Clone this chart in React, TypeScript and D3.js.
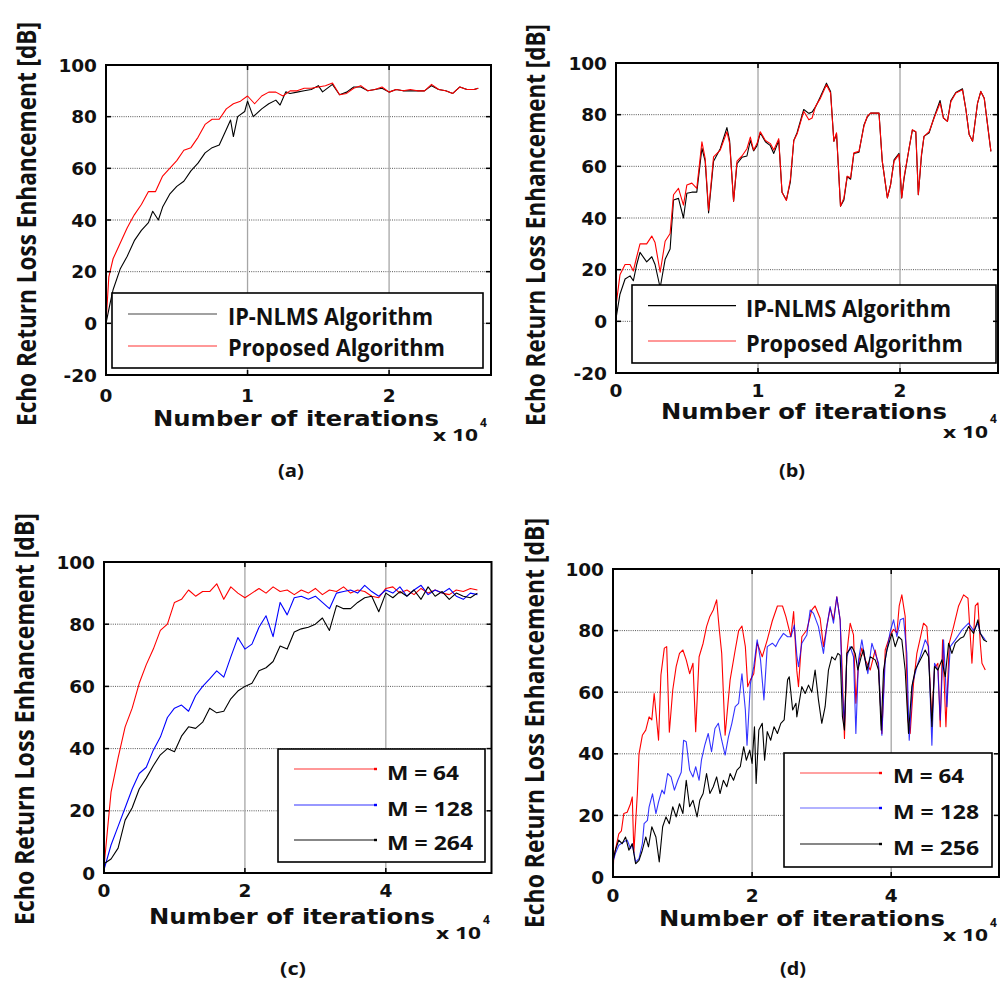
import React, { useLayoutEffect, useRef, useState } from "react";
import * as d3 from "d3";

type Pt = [number, number];

// iterations are in units of 10^4, ERLE in dB

// (a)
const aIpNlms: Pt[] = [
  [0, 0], [0.03, 8], [0.05, 13], [0.1, 21], [0.15, 26], [0.2, 32], [0.25, 36], [0.3, 39], [0.33, 43.4],
  [0.37, 40], [0.4, 45], [0.45, 50], [0.5, 53], [0.55, 55], [0.6, 59], [0.65, 62], [0.7, 66], [0.75, 68],
  [0.8, 69], [0.85, 75], [0.88, 78.7], [0.9, 72.3], [0.93, 80], [0.98, 82], [1.0, 86], [1.04, 80], [1.1, 83],
  [1.15, 85], [1.2, 86.4], [1.23, 84.5], [1.27, 89.6], [1.3, 89], [1.35, 89.5], [1.4, 90], [1.45, 90.5],
  [1.5, 92], [1.53, 89.6], [1.6, 92.5], [1.65, 88.5], [1.7, 89.5], [1.75, 91.5], [1.8, 91.5], [1.85, 90],
  [1.9, 90.5], [1.95, 91], [2.0, 89.5], [2.05, 90.5], [2.1, 90], [2.15, 90], [2.2, 90], [2.25, 90], [2.3, 92],
  [2.35, 90.5], [2.4, 90], [2.45, 89], [2.5, 91.5], [2.55, 90.5], [2.6, 90.5], [2.63, 91],
];
const aProposed: Pt[] = [
  [0, 0], [0.02, 18], [0.05, 25], [0.1, 31], [0.15, 37], [0.2, 42], [0.25, 46], [0.3, 51], [0.35, 51],
  [0.4, 57], [0.45, 60], [0.5, 63], [0.55, 67], [0.6, 68], [0.65, 72], [0.7, 77], [0.75, 79], [0.8, 79],
  [0.85, 83], [0.9, 85], [0.95, 86], [1.0, 88], [1.05, 85], [1.1, 88], [1.15, 89.5], [1.2, 89.5], [1.25, 88],
  [1.3, 90], [1.35, 90], [1.4, 91], [1.45, 91], [1.5, 91.5], [1.55, 92], [1.6, 93], [1.65, 88.5], [1.7, 89],
  [1.75, 91], [1.8, 92], [1.85, 90], [1.9, 90.5], [1.95, 91.5], [2.0, 89.5], [2.05, 90.5], [2.1, 90],
  [2.15, 90.5], [2.2, 90], [2.25, 90], [2.3, 92.5], [2.35, 90.5], [2.4, 90], [2.45, 89], [2.5, 91.5],
  [2.55, 90.5], [2.6, 90.5], [2.63, 91],
];

// (b)
const bIterations = [
  0, 0.028, 0.064, 0.099, 0.122, 0.146, 0.169, 0.216, 0.252, 0.275, 0.311, 0.346, 0.381, 0.405, 0.44, 0.475,
  0.499, 0.534, 0.569, 0.605, 0.628, 0.652, 0.687, 0.734, 0.781, 0.8, 0.828, 0.852, 0.887, 0.922, 0.946,
  0.969, 0.993, 1.016, 1.052, 1.087, 1.111, 1.146, 1.169, 1.2, 1.228, 1.252, 1.275, 1.322, 1.358, 1.381,
  1.405, 1.44, 1.482, 1.511, 1.534, 1.553, 1.581, 1.605, 1.628, 1.652, 1.675, 1.711, 1.746, 1.769, 1.793,
  1.852, 1.875, 1.911, 1.934, 1.958, 1.993, 2.012, 2.028, 2.064, 2.087, 2.111, 2.129, 2.151, 2.169, 2.205,
  2.24, 2.282, 2.306, 2.334, 2.358, 2.393, 2.44, 2.464, 2.487, 2.511, 2.546, 2.569, 2.593, 2.64,
];
const bIpNlms = [
  1, 10.5, 16.4, 17.6, 15.7, 22, 26.7, 23, 25, 22, 13, 24, 28, 47, 47.6, 40, 49.6, 50, 50, 67, 62, 42, 62,
  66.8, 75, 70, 46.5, 61, 63.5, 64, 70, 66, 68, 73, 69.5, 68, 65, 70, 50, 47, 54, 70, 73, 82, 80.5, 81, 83,
  87, 92.2, 89, 69.7, 72.5, 44.6, 47, 56, 55, 65, 65.5, 76, 79, 80.6, 80.6, 62, 47.8, 53, 62.5, 65, 47.8,
  55, 67, 74, 73.4, 49, 64, 71.6, 73, 79, 85.5, 78.7, 77.4, 85.5, 88.6, 90, 82, 72.3, 69.7, 84.5, 89, 86.4,
  65.8,
];
const bProposed = [
  6, 18, 22, 22, 19.5, 25, 30, 30, 33, 30.5, 19, 31, 34, 49, 51.5, 45, 52.8, 53.5, 51.5, 69.5, 63, 43, 63.7,
  66.3, 73.4, 69, 46.5, 62, 64, 66.8, 71.3, 66.3, 68.8, 73.4, 70, 68.8, 66.3, 70.7, 50, 46.8, 55, 70, 72.5,
  81.3, 78, 78.7, 83.2, 86.4, 91.6, 88.4, 69.7, 73, 44.6, 47.8, 56.2, 55.6, 65.2, 65.8, 75.5, 79.4, 80.6,
  80.6, 62, 47.8, 53, 62, 64.6, 47.8, 55.6, 67, 74.2, 73.4, 49, 64.6, 71.6, 73.4, 78.7, 84.5, 78.7, 77.4, 85,
  88.4, 89.6, 82, 72.3, 69.7, 84.5, 89, 86.4, 65.8,
];

// (c)
const cIterations = [
  0, 0.1, 0.2, 0.3, 0.4, 0.5, 0.6, 0.7, 0.8, 0.9, 1.0, 1.1, 1.2, 1.3, 1.4, 1.5, 1.6, 1.7, 1.8, 1.9, 2.0,
  2.1, 2.2, 2.3, 2.4, 2.5, 2.6, 2.7, 2.8, 2.9, 3.0, 3.1, 3.2, 3.3, 3.4, 3.5, 3.6, 3.7, 3.8, 3.9, 4.0, 4.1,
  4.2, 4.3, 4.4, 4.5, 4.6, 4.7, 4.8, 4.9, 5.0, 5.1, 5.2, 5.3,
];
const cM64 = [
  2, 26, 37, 47, 53, 61, 67, 72, 78, 80, 87, 88, 91, 89, 90.5, 90.5, 93, 88, 92, 90, 88.5, 90, 91.5, 90, 92,
  90.5, 91, 89.5, 91, 90, 91.5, 89.5, 91, 90.5, 92, 90, 91, 90.5, 89, 88.5, 91.5, 92, 90, 91, 89.5, 91.5, 90,
  91, 90, 89.5, 91, 90.5, 91.5, 91,
];
const cM128 = [
  1, 9, 15, 21, 27, 32, 34, 39.5, 43.7, 50, 53, 54, 52, 57, 60, 62.4, 65, 63, 69.5, 75.7, 72, 73.6, 79, 82.7,
  76, 87, 83, 88.5, 89, 88, 89, 87, 85, 90, 90.5, 91, 90, 92.5, 90.5, 89, 91, 90, 92, 89, 91, 92.5, 89.5, 91,
  90, 91.5, 89, 88, 90, 89.5,
];
const cM264 = [
  3, 4.5, 8, 17, 21, 27, 30.5, 34.5, 38, 40, 39, 44, 47, 46.5, 48.5, 53, 51.5, 52, 56, 58.5, 60, 61, 65, 66,
  68, 73, 72, 77.5, 78.5, 79, 80, 82, 78, 86, 85, 85, 87, 88.5, 89, 84, 90, 88.5, 90.5, 89, 91, 88, 92, 89,
  90.5, 88, 90, 89, 88.5, 90,
];

// (d)
const dM64: Pt[] = [
  [0, 0], [0.01, 6], [0.034, 8.7], [0.083, 14], [0.121, 15], [0.155, 20.6], [0.204, 21], [0.252, 23.8],
  [0.277, 26], [0.3, 8], [0.35, 27], [0.374, 40], [0.422, 46], [0.471, 47.7], [0.519, 52], [0.558, 51],
  [0.592, 59.6], [0.655, 44.4], [0.689, 65.6], [0.738, 74.3], [0.772, 74.8], [0.81, 47], [0.859, 60.7],
  [0.908, 68.3], [0.956, 72.6], [1.005, 73.7], [1.053, 70.5], [1.102, 66], [1.15, 69.4], [1.189, 47.2],
  [1.238, 71.5], [1.296, 75.9], [1.345, 81.3], [1.393, 84.6], [1.442, 86.7], [1.49, 90], [1.529, 80.2],
  [1.563, 72.6], [1.612, 46], [1.684, 64], [1.757, 73.7], [1.806, 79.9], [1.854, 81.5], [1.903, 74.8],
  [1.937, 61.8], [1.976, 64], [2.024, 66], [2.073, 76], [2.146, 71.5], [2.218, 77], [2.291, 83.2],
  [2.364, 88], [2.437, 88], [2.485, 84.6], [2.558, 78], [2.597, 86.2], [2.643, 67], [2.667, 61.8],
  [2.715, 78], [2.787, 80.2], [2.859, 86.7], [2.906, 88], [2.978, 84], [3.026, 74.8], [3.074, 81.3],
  [3.122, 87.3], [3.17, 83.5], [3.218, 91], [3.266, 83.5], [3.29, 70.5], [3.328, 45], [3.362, 72.6],
  [3.41, 82.4], [3.458, 78.6], [3.492, 56.4], [3.53, 69.4], [3.578, 74.3], [3.626, 70.5], [3.664, 68.8],
  [3.698, 67.2], [3.77, 73.7], [3.818, 68.3], [3.866, 46.6], [3.914, 73.7], [3.986, 78.6], [4.034, 80.4],
  [4.082, 79.3], [4.115, 88], [4.153, 91.6], [4.201, 84.6], [4.24, 51], [4.273, 46.6], [4.321, 62.9],
  [4.369, 72.6], [4.417, 77.5], [4.465, 82.4], [4.513, 81.3], [4.537, 73.2], [4.585, 51], [4.623, 67.8],
  [4.671, 69.4], [4.705, 48.8], [4.739, 77], [4.787, 48.8], [4.835, 75.9], [4.897, 81.3], [4.969, 88],
  [5.041, 91.6], [5.104, 90.5], [5.161, 69.4], [5.209, 88], [5.247, 89], [5.281, 75.9], [5.305, 69.4],
  [5.353, 67.2],
];
const dM128: Pt[] = [
  [0, 4.9], [0.034, 7.6], [0.083, 10.3], [0.155, 11.4], [0.204, 12], [0.252, 9.2], [0.277, 10.8],
  [0.325, 4.9], [0.374, 6], [0.422, 10.8], [0.447, 17.3], [0.495, 18.4], [0.519, 22.8], [0.568, 27],
  [0.617, 20.6], [0.655, 24.4], [0.704, 28.2], [0.738, 27], [0.786, 33.6], [0.835, 32.5], [0.883, 28.2],
  [0.932, 31.4], [0.981, 34], [1.015, 44.4], [1.053, 43.9], [1.102, 34.7], [1.15, 32.5], [1.189, 35.8],
  [1.238, 31.4], [1.272, 38], [1.32, 42.8], [1.369, 46.6], [1.417, 40.7], [1.466, 48.2], [1.515, 49.9],
  [1.563, 44.4], [1.612, 39.6], [1.66, 45.5], [1.709, 49.9], [1.757, 55.3], [1.806, 56.4], [1.854, 66],
  [1.903, 54.2], [1.927, 42.8], [1.976, 62.9], [2.024, 68.3], [2.073, 77], [2.121, 70.5], [2.17, 57.5],
  [2.218, 74.8], [2.291, 75.9], [2.34, 74.8], [2.388, 77], [2.451, 79.1], [2.51, 78], [2.558, 78],
  [2.607, 81.8], [2.643, 72], [2.667, 68.3], [2.715, 75.9], [2.787, 78.6], [2.835, 86.7], [2.883, 85.6],
  [2.954, 81.3], [3.026, 72.6], [3.074, 81.3], [3.122, 87.8], [3.17, 82.4], [3.218, 91], [3.266, 83.5],
  [3.299, 59.6], [3.328, 49.9], [3.362, 71.5], [3.41, 74.8], [3.458, 71.5], [3.492, 46.6], [3.53, 70.5],
  [3.578, 77], [3.626, 70.5], [3.664, 66], [3.722, 75.9], [3.77, 72.6], [3.818, 69.4], [3.866, 46],
  [3.914, 70.5], [3.986, 79.7], [4.034, 83.5], [4.082, 78], [4.13, 83.5], [4.177, 84], [4.225, 72.6],
  [4.259, 44.4], [4.307, 62.9], [4.369, 68.3], [4.417, 71.5], [4.489, 77], [4.537, 74.8], [4.585, 42.8],
  [4.623, 69.4], [4.671, 67.2], [4.705, 51], [4.753, 77], [4.801, 55.3], [4.849, 74.8], [4.921, 77],
  [5.017, 80.2], [5.113, 82.4], [5.185, 80], [5.247, 82.4], [5.281, 79.1], [5.353, 77],
];
const dM256: Pt[] = [
  [0, 5.4], [0.034, 8.7], [0.083, 12], [0.131, 10.8], [0.18, 13], [0.228, 8.7], [0.277, 10.8], [0.325, 4.3],
  [0.374, 5.4], [0.422, 8.7], [0.471, 13], [0.51, 9.8], [0.558, 16.3], [0.617, 13], [0.665, 4.9],
  [0.714, 16.3], [0.762, 19.5], [0.81, 17.3], [0.859, 22.8], [0.908, 19.5], [0.956, 23.8], [1.005, 20.6],
  [1.053, 31.4], [1.102, 22.8], [1.15, 24.9], [1.209, 19.5], [1.248, 24.9], [1.296, 27.1], [1.345, 33.6],
  [1.393, 27.1], [1.442, 29.3], [1.49, 32.5], [1.539, 27.1], [1.587, 31.4], [1.636, 29.3], [1.684, 33.6],
  [1.733, 31.4], [1.782, 34.7], [1.83, 35.8], [1.879, 42.3], [1.917, 37.9], [1.966, 41.2], [2.0, 36.9],
  [2.034, 48.8], [2.058, 30.4], [2.097, 47.7], [2.146, 49.9], [2.18, 37.9], [2.218, 47.2], [2.267, 44.4],
  [2.316, 48.8], [2.364, 46.6], [2.413, 49.9], [2.461, 51], [2.51, 64], [2.534, 65], [2.583, 54.2],
  [2.631, 56.4], [2.643, 52], [2.667, 55.3], [2.715, 61.8], [2.763, 59.6], [2.811, 62.3], [2.859, 60],
  [2.906, 67.2], [2.954, 57.5], [3.002, 49.9], [3.05, 55.3], [3.098, 67.2], [3.146, 71.5], [3.194, 70.5],
  [3.233, 72.6], [3.266, 72], [3.299, 52], [3.328, 47.7], [3.362, 72.6], [3.434, 74.8], [3.482, 72.6],
  [3.52, 67.2], [3.568, 71.5], [3.602, 73.7], [3.65, 67.2], [3.698, 71.5], [3.77, 70.5], [3.818, 67.2],
  [3.856, 47.7], [3.89, 67.2], [3.938, 73.7], [4.01, 79.1], [4.058, 74.8], [4.106, 78], [4.153, 77],
  [4.201, 67.2], [4.249, 46.6], [4.297, 61.8], [4.345, 67.2], [4.393, 69.4], [4.441, 71.5], [4.489, 73.7],
  [4.537, 71.5], [4.585, 48.8], [4.623, 68.3], [4.671, 67.2], [4.729, 70.5], [4.777, 65], [4.825, 75.9],
  [4.873, 72.6], [4.921, 75.9], [4.993, 77.5], [5.041, 78], [5.113, 81.3], [5.185, 79.1], [5.247, 83.5],
  [5.281, 79.1], [5.329, 77], [5.377, 76.4],
];

const xTicksAB = [0, 1, 2];
const xTicksCD = [0, 2, 4];
const yTicksAB = [-20, 0, 20, 40, 60, 80, 100];
const yTicksCD = [0, 20, 40, 60, 80, 100];
const legendAB = ["IP-NLMS Algorithm", "Proposed Algorithm"];
const legendC = ["M = 64", "M = 128", "M = 264"];
const legendD = ["M = 64", "M = 128", "M = 256"];
const panelTags = ["(a)", "(b)", "(c)", "(d)"];

const yTitle = "Echo Return Loss Enhancement [dB]";
const xTitle = "Number of iterations";

const zip = (xs: number[], ys: number[]): Pt[] => xs.map((v, i) => [v, ys[i]]);

const NUM_FONT = "'DejaVu Sans', Verdana, sans-serif";
const TXT_FONT = "'Open Sans', Lato, sans-serif";

interface Series { points: Pt[]; color: string; legendColor: string; opacity?: number }
interface LegendSpec {
  x0: number; y0: number; x1: number; y1: number;
  lineX0: number; lineX1: number; textX: number; fontSize: number; marker: boolean;
  rows: { label: string; lineY: number; textY: number; len: number }[];
}
interface PanelSpec {
  id: string;
  box: { left: number; right: number; top: number; bottom: number };
  xMax: number; yDomain: [number, number]; xTicks: number[]; yTicks: number[];
  tickLabelDy: number;
  series: Series[];
  legend: LegendSpec;
  yLab: { x: number; y: number; len: number };
  xLab: { x: number; y: number };
  exp: { x: number; y: number; sx: number; sy: number };
  tag: { text: string; x: number; y: number };
}

// rotated axis title, squeezed along its length to fit the measured span
function YTitle({ x, y, len }: { x: number; y: number; len: number }) {
  const ref = useRef<SVGTextElement>(null);
  const [k, setK] = useState(0.8);
  useLayoutEffect(() => {
    const n = ref.current ? ref.current.getComputedTextLength() : 0;
    if (n > 0) setK(len / n);
  }, [len]);
  return (
    <text ref={ref} transform={`translate(${x},${y}) rotate(-90) scale(${k},1)`} textAnchor="middle"
      fontFamily={TXT_FONT} fontWeight="bold" fontSize={26} fill="#111">{yTitle}</text>
  );
}

function Panel({ spec }: { spec: PanelSpec }) {
  const { box, legend } = spec;
  const x = d3.scaleLinear().domain([0, spec.xMax]).range([box.left, box.right]);
  const y = d3.scaleLinear().domain(spec.yDomain).range([box.bottom, box.top]);
  const line = d3.line<Pt>().x(d => x(d[0])).y(d => y(d[1]));
  const clipId = `clip-${spec.id}`;
  const tl = 5;

  return (
    <g>
      <defs>
        <clipPath id={clipId}>
          <rect x={box.left} y={box.top} width={box.right - box.left} height={box.bottom - box.top} />
        </clipPath>
      </defs>

      {/* grid */}
      {spec.yTicks.filter(t => t > spec.yDomain[0] && t < spec.yDomain[1]).map(t => (
        <line key={`gy${t}`} x1={box.left} x2={box.right} y1={y(t)} y2={y(t)}
          stroke="#444" strokeWidth={0.9} strokeDasharray="1 1.2" />
      ))}
      {spec.xTicks.filter(t => t > 0).map(t => (
        <line key={`gx${t}`} x1={x(t)} x2={x(t)} y1={box.top} y2={box.bottom} stroke="#a6a6a6" strokeWidth={1.3} />
      ))}

      {/* data */}
      <g clipPath={`url(#${clipId})`}>
        {spec.series.map((s, i) => (
          <path key={i} d={line(s.points) ?? ""} fill="none" stroke={s.color}
            strokeOpacity={s.opacity ?? 1} strokeWidth={1.1} strokeLinejoin="round" />
        ))}
      </g>

      {/* legend */}
      <rect x={legend.x0} y={legend.y0} width={legend.x1 - legend.x0} height={legend.y1 - legend.y0}
        fill="#fff" stroke="#000" strokeWidth={1.6} />
      {legend.rows.map((r, i) => (
        <g key={r.label}>
          <line x1={legend.lineX0} x2={legend.lineX1} y1={r.lineY} y2={r.lineY}
            stroke={spec.series[i].legendColor} strokeWidth={1.2} />
          {legend.marker && (
            <line x1={legend.lineX1 - 3} x2={legend.lineX1} y1={r.lineY} y2={r.lineY}
              stroke={spec.series[i].color} strokeWidth={2.4} />
          )}
          <text x={legend.textX} y={r.textY} fontFamily={TXT_FONT} fontWeight="bold" fontSize={legend.fontSize}
            textLength={r.len} lengthAdjust="spacingAndGlyphs" fill="#111">{r.label}</text>
        </g>
      ))}

      {/* frame and ticks */}
      <rect x={box.left} y={box.top} width={box.right - box.left} height={box.bottom - box.top}
        fill="none" stroke="#000" strokeWidth={2} />
      {spec.yTicks.map(t => (
        <g key={`ty${t}`}>
          <line x1={box.left} x2={box.left + tl} y1={y(t)} y2={y(t)} stroke="#000" strokeWidth={1.5} />
          <line x1={box.right - tl} x2={box.right} y1={y(t)} y2={y(t)} stroke="#000" strokeWidth={1.5} />
          <text x={box.left - 9} y={y(t)} dy="0.36em" textAnchor="end" fontFamily={NUM_FONT}
            fontWeight="bold" fontSize={18.5} fill="#111">{t}</text>
        </g>
      ))}
      {spec.xTicks.map(t => (
        <g key={`tx${t}`}>
          <line x1={x(t)} x2={x(t)} y1={box.bottom} y2={box.bottom - tl} stroke="#000" strokeWidth={1.5} />
          <line x1={x(t)} x2={x(t)} y1={box.top} y2={box.top + tl} stroke="#000" strokeWidth={1.5} />
          <text x={x(t)} y={box.bottom + spec.tickLabelDy} textAnchor="middle" fontFamily={NUM_FONT}
            fontWeight="bold" fontSize={18.5} fill="#111">{t}</text>
        </g>
      ))}

      {/* titles */}
      <YTitle x={spec.yLab.x} y={spec.yLab.y} len={spec.yLab.len} />
      <text x={spec.xLab.x} y={spec.xLab.y} textAnchor="middle" fontFamily={NUM_FONT} fontWeight="bold"
        fontSize={21.5} textLength={286} lengthAdjust="spacingAndGlyphs" fill="#111">{xTitle}</text>
      <text x={spec.exp.x} y={spec.exp.y} fontFamily={TXT_FONT} fontWeight="bold" fontSize={16}
        textLength={45} lengthAdjust="spacingAndGlyphs" fill="#111">x 10</text>
      <text x={spec.exp.sx} y={spec.exp.sy} fontFamily={TXT_FONT} fontWeight="bold" fontSize={12} fill="#111">4</text>
      <text x={spec.tag.x} y={spec.tag.y} textAnchor="middle" fontFamily={TXT_FONT} fontWeight="bold"
        fontSize={17} textLength={26} lengthAdjust="spacingAndGlyphs" fill="#111">{spec.tag.text}</text>
    </g>
  );
}

const panels: PanelSpec[] = [
  {
    id: "a",
    box: { left: 106, right: 491, top: 65, bottom: 375 },
    xMax: 2.72, yDomain: [-20, 100], xTicks: xTicksAB, yTicks: yTicksAB, tickLabelDy: 27,
    series: [
      { points: aIpNlms, color: "#000", legendColor: "#444" },
      { points: aProposed, color: "#ff0000", legendColor: "#ff3333" },
    ],
    legend: {
      x0: 112, y0: 293, x1: 483, y1: 368, lineX0: 128, lineX1: 217, textX: 228, fontSize: 23, marker: false,
      rows: [
        { label: legendAB[0], lineY: 314, textY: 325, len: 205 },
        { label: legendAB[1], lineY: 346, textY: 356, len: 217 },
      ],
    },
    yLab: { x: 36, y: 224, len: 404 },
    xLab: { x: 296, y: 426 },
    exp: { x: 433, y: 441, sx: 480, sy: 427 },
    tag: { text: panelTags[0], x: 291, y: 477 },
  },
  {
    id: "b",
    box: { left: 616, right: 998, top: 63, bottom: 373 },
    xMax: 2.69, yDomain: [-20, 100], xTicks: xTicksAB, yTicks: yTicksAB, tickLabelDy: 24,
    series: [
      { points: zip(bIterations, bIpNlms), color: "#000", legendColor: "#000" },
      { points: zip(bIterations, bProposed), color: "#ff0000", legendColor: "#ff3333" },
    ],
    legend: {
      x0: 632, y0: 285, x1: 996, y1: 363, lineX0: 648, lineX1: 736, textX: 746, fontSize: 23, marker: false,
      rows: [
        { label: legendAB[0], lineY: 305.7, textY: 316.7, len: 205 },
        { label: legendAB[1], lineY: 341, textY: 351.7, len: 217 },
      ],
    },
    yLab: { x: 545, y: 225, len: 402 },
    xLab: { x: 804, y: 419 },
    exp: { x: 943, y: 438, sx: 990, sy: 423 },
    tag: { text: panelTags[1], x: 792, y: 477 },
  },
  {
    id: "c",
    box: { left: 104, right: 491.5, top: 562, bottom: 873 },
    xMax: 5.5, yDomain: [0, 100], xTicks: xTicksCD, yTicks: yTicksCD, tickLabelDy: 24,
    series: [
      { points: zip(cIterations, cM64), color: "#ff0000", legendColor: "#ff3333" },
      { points: zip(cIterations, cM128), color: "#0000ff", legendColor: "#3333ff" },
      { points: zip(cIterations, cM264), color: "#000", legendColor: "#111" },
    ],
    legend: {
      x0: 278, y0: 749, x1: 485, y1: 862, lineX0: 294, lineX1: 377, textX: 387, fontSize: 19, marker: true,
      rows: [
        { label: legendC[0], lineY: 769, textY: 780, len: 72 },
        { label: legendC[1], lineY: 805, textY: 816, len: 86 },
        { label: legendC[2], lineY: 840, textY: 850, len: 86 },
      ],
    },
    yLab: { x: 34, y: 719, len: 412 },
    xLab: { x: 292, y: 924 },
    exp: { x: 436, y: 939, sx: 483, sy: 924 },
    tag: { text: panelTags[2], x: 293, y: 975 },
  },
  {
    id: "d",
    box: { left: 613, right: 999, top: 569, bottom: 877 },
    xMax: 5.55, yDomain: [0, 100], xTicks: xTicksCD, yTicks: yTicksCD, tickLabelDy: 25,
    series: [
      { points: dM64, color: "#ff0000", legendColor: "#ff4444" },
      { points: dM128, color: "#0000ff", legendColor: "#6666ff", opacity: 0.8 },
      { points: dM256, color: "#000", legendColor: "#111" },
    ],
    legend: {
      x0: 784, y0: 753, x1: 992, y1: 867, lineX0: 800, lineX1: 882, textX: 893, fontSize: 19, marker: true,
      rows: [
        { label: legendD[0], lineY: 773, textY: 783, len: 71 },
        { label: legendD[1], lineY: 808, textY: 819, len: 86 },
        { label: legendD[2], lineY: 844, textY: 855, len: 86 },
      ],
    },
    yLab: { x: 544, y: 723, len: 410 },
    xLab: { x: 802, y: 926 },
    exp: { x: 943, y: 941, sx: 990, sy: 927 },
    tag: { text: panelTags[3], x: 793, y: 975 },
  },
];

export default function App() {
  return (
    <svg width={1000} height={994} style={{ position: "absolute", left: 0, top: 0, background: "#fff" }}>
      <rect width={1000} height={994} fill="#fff" />
      {panels.map(p => <Panel key={p.id} spec={p} />)}
    </svg>
  );
}
